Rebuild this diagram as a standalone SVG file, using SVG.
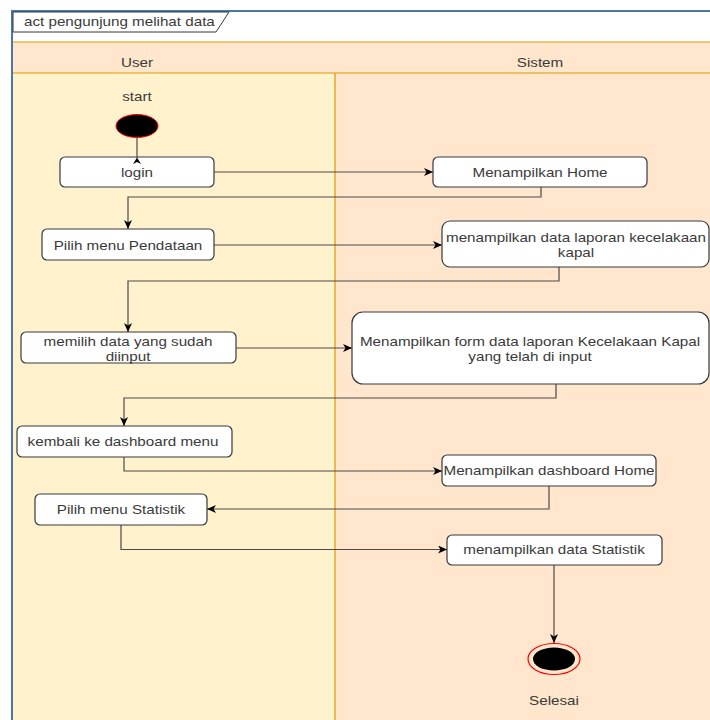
<svg xmlns="http://www.w3.org/2000/svg" width="710" height="720" viewBox="0 0 710 720">
  <style>
    .t { font-family: "Liberation Sans", Arial, Helvetica, sans-serif; font-size: 13px; fill: #3a3a3a; text-anchor: middle; }
    .ts { text-anchor: start; }
    .box { fill: #ffffff; stroke: #36393d; stroke-width: 1.2; }
    .edge { fill: none; stroke: #4a4a4a; stroke-width: 1.2; marker-end: url(#arrow); }
    .lane-line { stroke: #d79b00; stroke-width: 1.2; }
  </style>
  <defs>
    <marker id="arrow" markerUnits="userSpaceOnUse" markerWidth="12" markerHeight="10" refX="9" refY="4" orient="auto">
      <path d="M0,0 L9,4 L0,8 L2.5,4 Z" fill="#000000"/>
    </marker>
  </defs>

  <rect x="0" y="0" width="710" height="720" fill="#ffffff"/>

  <!-- swimlane bodies -->
  <rect x="13" y="73" width="322" height="647" fill="#fff2cc"/>
  <rect x="335" y="73" width="375" height="647" fill="#ffe6cc"/>
  <!-- lane header band -->
  <rect x="13" y="42" width="697" height="31" fill="#ffe6cc"/>
  <line class="lane-line" x1="13" y1="42" x2="710" y2="42"/>
  <line class="lane-line" x1="13" y1="73" x2="710" y2="73"/>
  <line class="lane-line" x1="335" y1="73" x2="335" y2="720"/>
  <g id="lane-user"><text class="t" transform="translate(137,66.5) scale(1.17,1)">User</text></g>
  <g id="lane-sistem"><text class="t" transform="translate(540,66.5) scale(1.17,1)">Sistem</text></g>

  <!-- activity frame -->
  <path d="M12,720 V11 H710" fill="none" stroke="#4a79a8" stroke-width="2"/>
  <g id="frame-title">
    <path d="M13,12 H229 L216,32 H13 Z" fill="#ffffff" stroke="#36393d" stroke-width="1"/>
    <text class="t ts" transform="translate(24,26) scale(1.17,1)">act pengunjung melihat data</text>
  </g>

  <!-- start node -->
  <g id="start">
    <text class="t" transform="translate(137,100.5) scale(1.17,1)">start</text>
    <ellipse cx="137" cy="126" rx="21" ry="11.5" fill="#000000" stroke="#ff0000" stroke-width="1"/>
  </g>

  <g id="login">
    <rect class="box" x="60" y="157" width="154" height="30" rx="5"/>
    <text class="t" transform="translate(137,176.5) scale(1.17,1)">login</text>
  </g>

  <g id="menampilkan-home">
    <rect class="box" x="433" y="157" width="214" height="30" rx="5"/>
    <text class="t" transform="translate(540,176.5) scale(1.17,1)">Menampilkan Home</text>
  </g>

  <g id="pilih-pendataan">
    <rect class="box" x="42" y="229" width="172" height="31" rx="5"/>
    <text class="t" transform="translate(128,249.5) scale(1.17,1)">Pilih menu Pendataan</text>
  </g>

  <g id="data-laporan">
    <rect class="box" x="442" y="221" width="267" height="46" rx="8"/>
    <text class="t" transform="translate(576,241.5) scale(1.17,1)">menampilkan data laporan kecelakaan</text>
    <text class="t" transform="translate(576,256.5) scale(1.17,1)">kapal</text>
  </g>

  <g id="memilih-data">
    <rect class="box" x="21" y="332" width="215" height="31" rx="5"/>
    <text class="t" transform="translate(128,345.5) scale(1.17,1)">memilih data yang sudah</text>
    <text class="t" transform="translate(128,360.5) scale(1.17,1)">diinput</text>
  </g>

  <g id="form-laporan">
    <rect class="box" x="352" y="312" width="357" height="72" rx="11"/>
    <text class="t" transform="translate(530,345.5) scale(1.17,1)">Menampilkan form data laporan Kecelakaan Kapal</text>
    <text class="t" transform="translate(530,360.5) scale(1.17,1)">yang telah di input</text>
  </g>

  <g id="kembali-dashboard">
    <rect class="box" x="17" y="426" width="215" height="31" rx="5"/>
    <text class="t" transform="translate(123,445.5) scale(1.17,1)">kembali ke dashboard menu</text>
  </g>

  <g id="dashboard-home">
    <rect class="box" x="442" y="455" width="214" height="31" rx="5"/>
    <text class="t" transform="translate(549,474.5) scale(1.17,1)">Menampilkan dashboard Home</text>
  </g>

  <g id="pilih-statistik">
    <rect class="box" x="35" y="494" width="172" height="31" rx="5"/>
    <text class="t" transform="translate(121,513.5) scale(1.17,1)">Pilih menu Statistik</text>
  </g>

  <g id="data-statistik">
    <rect class="box" x="447" y="535" width="215" height="30" rx="5"/>
    <text class="t" transform="translate(554,553.5) scale(1.17,1)">menampilkan data Statistik</text>
  </g>

  <!-- final node -->
  <g id="selesai">
    <ellipse cx="554" cy="659" rx="26" ry="15.5" fill="none" stroke="#ff0000" stroke-width="1.2"/>
    <ellipse cx="554" cy="659" rx="21" ry="11.5" fill="#000000"/>
    <text class="t" transform="translate(554,704.5) scale(1.17,1)">Selesai</text>
  </g>

  <!-- connectors, drawn over the nodes so arrowheads stay visible -->
  <g id="connectors">
    <path d="M137,138 V158" fill="none" stroke="#4a4a4a" stroke-width="1.2"/>
    <polygon points="137,157.5 133,164 137,162 141,164" fill="#000000"/>
    <path class="edge" d="M214,172 H433"/>
    <path class="edge" d="M541,187 V197 H128 V229"/>
    <path class="edge" d="M214,245 H442"/>
    <path class="edge" d="M559,267 V281 H128 V332"/>
    <path class="edge" d="M236,348 H352"/>
    <path class="edge" d="M556,384 V398 H124 V426"/>
    <path class="edge" d="M124,457 V471 H442"/>
    <path class="edge" d="M549,486 V509 H207"/>
    <path class="edge" d="M121,525 V549.5 H447"/>
    <path class="edge" d="M554,565 V643"/>
  </g>
</svg>
